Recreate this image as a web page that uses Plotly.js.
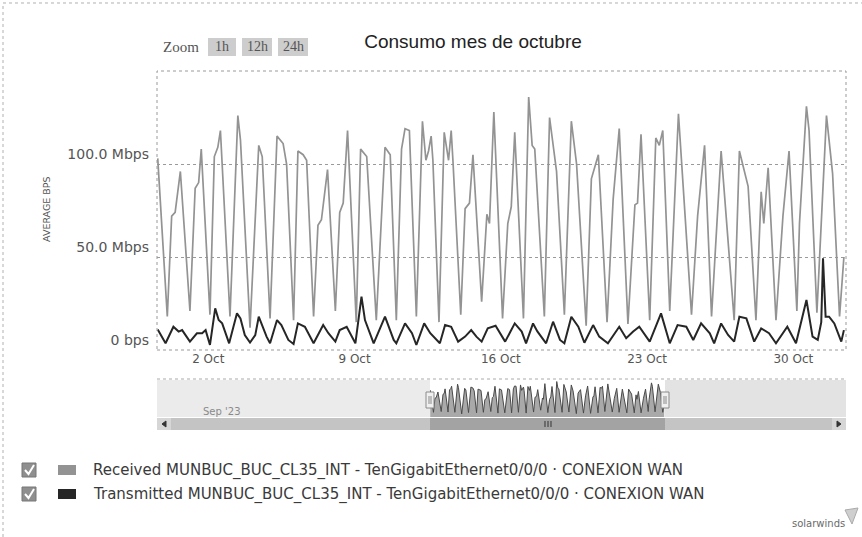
<!DOCTYPE html>
<html><head><meta charset="utf-8">
<script src="https://cdn.plot.ly/plotly-3.0.1.min.js"></script>
<style>html,body{margin:0;padding:0;background:#fff}#chart{width:862px;height:537px}</style>
</head><body><div id="chart"></div>
<script>
// ---------- data ----------
const recvTime = ['2023-09-29 14:00','2023-09-30 01:00','2023-09-30 06:00','2023-09-30 10:00','2023-09-30 16:00',
'2023-10-01 03:00','2023-10-01 09:00','2023-10-01 13:00','2023-10-01 16:00',
'2023-10-02 02:00','2023-10-02 07:00','2023-10-02 11:00','2023-10-02 14:00',
'2023-10-03 01:00','2023-10-03 10:00','2023-10-03 13:00',
'2023-10-04 00:00','2023-10-04 10:00','2023-10-04 14:00','2023-10-04 23:00',
'2023-10-05 07:00','2023-10-05 14:00','2023-10-05 18:00',
'2023-10-06 02:00','2023-10-06 07:00','2023-10-06 13:00','2023-10-06 17:00',
'2023-10-07 01:00','2023-10-07 06:00','2023-10-07 10:00','2023-10-07 17:00',
'2023-10-08 02:00','2023-10-08 07:00','2023-10-08 11:00','2023-10-08 16:00',
'2023-10-09 02:00','2023-10-09 07:00','2023-10-09 14:00',
'2023-10-10 01:00','2023-10-10 11:00','2023-10-10 17:00',
'2023-10-11 00:00','2023-10-11 06:00','2023-10-11 10:00','2023-10-11 15:00','2023-10-11 23:00',
'2023-10-12 06:00','2023-10-12 10:00','2023-10-12 13:00','2023-10-12 16:00','2023-10-12 18:00',
'2023-10-13 01:00','2023-10-13 07:00','2023-10-13 12:00','2023-10-13 15:00','2023-10-13 17:00',
'2023-10-14 02:00','2023-10-14 07:00','2023-10-14 12:00','2023-10-14 16:00',
'2023-10-15 02:00','2023-10-15 08:00','2023-10-15 11:00','2023-10-15 16:00',
'2023-10-16 02:00','2023-10-16 08:00','2023-10-16 12:00','2023-10-16 16:00',
'2023-10-17 02:00','2023-10-17 08:00','2023-10-17 12:00','2023-10-17 15:00',
'2023-10-18 02:00','2023-10-18 08:00','2023-10-18 16:00',
'2023-10-19 01:00','2023-10-19 09:00','2023-10-19 15:00',
'2023-10-20 02:00','2023-10-20 08:00','2023-10-20 16:00',
'2023-10-21 02:00','2023-10-21 09:00','2023-10-21 16:00',
'2023-10-22 02:00','2023-10-22 10:00','2023-10-22 13:00','2023-10-22 17:00',
'2023-10-23 03:00','2023-10-23 10:00','2023-10-23 14:00','2023-10-23 18:00',
'2023-10-24 02:00','2023-10-24 12:00',
'2023-10-25 03:00','2023-10-25 10:00','2023-10-25 18:00',
'2023-10-26 02:00','2023-10-26 13:00',
'2023-10-27 04:00','2023-10-27 10:00','2023-10-27 20:00',
'2023-10-28 05:00','2023-10-28 11:00','2023-10-28 14:00','2023-10-28 19:00',
'2023-10-29 04:00','2023-10-29 12:00','2023-10-29 19:00',
'2023-10-30 04:00','2023-10-30 07:00','2023-10-30 15:00','2023-10-30 18:00',
'2023-10-31 03:00','2023-10-31 14:00','2023-10-31 21:00',
'2023-11-01 05:00','2023-11-01 10:00'];
const recvMbps = [103,18,72,74,96,
21,87,90,108,
19,104,109,118,
18,126,113,
12,110,104,17,
115,111,100,
16,107,105,102,
18,67,70,97,
21,74,79,118,
15,108,104,
16,109,105,
16,108,119,118,18,
123,102,107,115,102,
15,117,102,118,102,
19,76,79,105,
26,73,68,128,
17,68,77,117,
17,136,110,108,
18,125,96,
19,123,100,
13,92,105,
15,81,119,
14,78,79,116,
16,114,110,118,
21,127,
19,72,110,
18,107,
16,107,88,
16,85,68,98,
16,72,107,
21,68,131,118,
20,126,95,
18,50];

const sentTime = ['2023-09-29 14:00','2023-09-29 23:00','2023-09-30 08:00','2023-09-30 14:00','2023-09-30 18:00',
'2023-10-01 03:00','2023-10-01 11:00','2023-10-01 17:00','2023-10-01 21:00',
'2023-10-02 02:00','2023-10-02 08:00','2023-10-02 12:00','2023-10-02 16:00',
'2023-10-03 00:00','2023-10-03 09:00','2023-10-03 13:00','2023-10-03 18:00',
'2023-10-04 00:00','2023-10-04 06:00','2023-10-04 10:00','2023-10-04 19:00','2023-10-04 23:00',
'2023-10-05 07:00','2023-10-05 12:00','2023-10-05 20:00',
'2023-10-06 02:00','2023-10-06 07:00','2023-10-06 15:00',
'2023-10-07 01:00','2023-10-07 12:00','2023-10-07 18:00',
'2023-10-08 02:00','2023-10-08 07:00','2023-10-08 15:00',
'2023-10-09 01:00','2023-10-09 08:00','2023-10-09 12:00','2023-10-09 22:00',
'2023-10-10 11:00','2023-10-10 21:00',
'2023-10-11 00:00','2023-10-11 10:00','2023-10-11 18:00','2023-10-11 23:00',
'2023-10-12 08:00','2023-10-12 15:00',
'2023-10-13 02:00','2023-10-13 08:00','2023-10-13 15:00','2023-10-13 23:00',
'2023-10-14 07:00','2023-10-14 14:00','2023-10-14 20:00',
'2023-10-15 02:00','2023-10-15 09:00','2023-10-15 18:00',
'2023-10-16 05:00','2023-10-16 16:00',
'2023-10-17 00:00','2023-10-17 05:00','2023-10-17 13:00','2023-10-17 18:00',
'2023-10-18 04:00','2023-10-18 12:00','2023-10-18 20:00',
'2023-10-19 01:00','2023-10-19 09:00','2023-10-19 17:00',
'2023-10-20 00:00','2023-10-20 10:00','2023-10-20 17:00',
'2023-10-21 03:00','2023-10-21 16:00',
'2023-10-22 00:00','2023-10-22 08:00','2023-10-22 15:00',
'2023-10-23 03:00','2023-10-23 16:00',
'2023-10-24 02:00','2023-10-24 11:00','2023-10-24 21:00',
'2023-10-25 05:00','2023-10-25 14:00',
'2023-10-26 00:00','2023-10-26 05:00','2023-10-26 13:00','2023-10-26 21:00',
'2023-10-27 04:00','2023-10-27 10:00','2023-10-27 18:00',
'2023-10-28 03:00','2023-10-28 11:00','2023-10-28 20:00',
'2023-10-29 04:00','2023-10-29 17:00',
'2023-10-30 03:00','2023-10-30 15:00','2023-10-30 22:00',
'2023-10-31 04:00','2023-10-31 08:00','2023-10-31 10:00','2023-10-31 13:00','2023-10-31 17:00','2023-10-31 23:00',
'2023-11-01 07:00','2023-11-01 10:00'];
const sentMbps = [11,3.6,12.5,9.9,10.7,
4.5,9,9,10.7,
2.7,22.4,16.1,14.3,
3.6,19.7,17,8,
4,8,17.9,7.2,3.6,
16.1,13.4,5.4,
3.2,14.3,12.5,
3.6,13.4,9,
4.5,10.7,12.5,
3.6,28.7,16.1,3.6,
17.9,5.4,
3.6,14.3,9,2.7,
14.3,9,
3.6,13.4,12.5,4.5,
7.2,10.7,7.2,
4.5,11.6,13,
4.5,14.3,
9.9,3.6,14.3,10,
3.6,15.2,5.4,
3.6,17.9,12.5,
3.9,13.4,7.2,
3.6,12.5,
6.3,9.9,12.5,
4.5,19.7,
3.6,13.4,12.5,
5.4,14.3,
9,3.6,14.3,8.1,
4.5,17.9,17,
4.5,11.6,9,
3.6,12.5,
3.6,26.9,7.2,
5.4,15,49.3,17.9,17.9,14.3,
4.5,10.7];

const xTickVals = ['2023-10-02','2023-10-09','2023-10-16','2023-10-23','2023-10-30'];
const yTickVals = [0, 50, 100];
const yTickText = ['0 bps', '50.0 Mbps', '100.0 Mbps'];
const seriesNames = ['Received MUNBUC_BUC_CL35_INT - TenGigabitEthernet0/0/0 · CONEXION WAN',
                     'Transmitted MUNBUC_BUC_CL35_INT - TenGigabitEthernet0/0/0 · CONEXION WAN'];
const zoomButtons = ['1h', '12h', '24h'];

// ---------- layout helpers (pixel -> paper) ----------
const L = 157, R = 846, T = 71, B = 430;
const X = p => (p - L) / (R - L);
const Y = p => (B - p) / (B - T);
const recvColor = '#939393', sentColor = '#262626';
const font = 'DejaVu Sans, Open Sans, sans-serif';

const traces = [
  {x: recvTime, y: recvMbps, type: 'scatter', mode: 'lines', name: seriesNames[0],
   line: {color: recvColor, width: 1.7}, xaxis: 'x', yaxis: 'y', hoverinfo: 'skip'},
  {x: sentTime, y: sentMbps, type: 'scatter', mode: 'lines', name: seriesNames[1],
   line: {color: sentColor, width: 2}, xaxis: 'x', yaxis: 'y', hoverinfo: 'skip'},
  {x: recvTime, y: recvMbps, type: 'scatter', mode: 'lines', name: 'navigator',
   line: {color: '#4a4a4a', width: 1}, fill: 'tozeroy', fillcolor: '#a9a9a9',
   xaxis: 'x2', yaxis: 'y2', hoverinfo: 'skip'}
];

const shapes = [];
const ann = [];
function rect(x0, y0, x1, y1, fill, line, extra) {
  shapes.push(Object.assign({type: 'rect', xref: 'paper', yref: 'paper',
    x0: X(x0), x1: X(x1), y0: Y(y1), y1: Y(y0), fillcolor: fill,
    line: line || {width: 0}, layer: 'above'}, extra || {}));
}
function path(d, color, width, fill, dash) {
  const s = d.map((p, i) => (i ? 'L' : 'M') + X(p[0]).toFixed(5) + ',' + Y(p[1]).toFixed(5)).join(' ') + (fill ? ' Z' : '');
  shapes.push({type: 'path', xref: 'paper', yref: 'paper', path: s,
    line: {color: color, width: width, dash: dash || 'solid'}, fillcolor: fill || 'rgba(0,0,0,0)', layer: 'above'});
}
function text(t, x, y, size, color, anchor, extra, fam) {
  ann.push(Object.assign({text: t, x: X(x), y: Y(y), xref: 'paper', yref: 'paper',
    showarrow: false, xanchor: anchor || 'center', yanchor: 'middle',
    font: {family: fam || font, size: size, color: color}}, extra || {}));
}

// outer dotted border (top + left)
path([[3, 537], [3, 3], [862, 3]], '#b0b0b0', 1, null, 'dot');
// plot-area dotted border
rect(L, T, R, 350, 'rgba(0,0,0,0)', {color: '#9a9a9a', width: 1, dash: 'dot'});

// Zoom range selector
const serif = 'Liberation Serif, serif';
text('Zoom', 181, 47, 15, '#555', 'center', null, serif);
const btnX = [[208, 236], [242, 272], [278, 308]];
zoomButtons.forEach((b, i) => {
  rect(btnX[i][0], 38, btnX[i][1], 56, '#cdcdcd', {width: 0});
  text(b, (btnX[i][0] + btnX[i][1]) / 2, 47, 14, '#555', 'center', null, serif);
});

// y axis title
text('AVERAGE BPS', 46, 209, 9.5, '#555', 'center', {textangle: -90});

// navigator decorations
path([[L, 379], [R, 379]], '#aaa', 1, null, 'dot');
rect(L, 380, 430, 417, 'rgba(232,232,232,0.85)');
rect(665, 380, R, 417, 'rgba(222,222,222,0.85)');
text("Sep '23", 222, 411, 10, '#8a8a8a');
[430, 665].forEach(hx => {
  rect(hx - 4, 392, hx + 4, 408, '#f0f0f0', {color: '#8a8a8a', width: 1});
  path([[hx - 1, 396], [hx - 1, 404]], '#8a8a8a', 1);
  path([[hx + 1, 396], [hx + 1, 404]], '#8a8a8a', 1);
});
// scrollbar
rect(L, 418, R, 430, '#c4c4c4');
rect(430, 418, 665, 430, '#a3a3a3');
rect(L, 418, 171, 430, '#d6d6d6');
rect(832, 418, R, 430, '#d6d6d6');
path([[166, 421], [166, 427], [162, 424]], '#333', 1, '#333');
path([[837, 421], [837, 427], [841, 424]], '#333', 1, '#333');
[545, 548, 551].forEach(gx => path([[gx, 421], [gx, 427]], '#333', 1));

// custom legend
const rowY = [470, 494];
const swatch = [recvColor, sentColor];
rowY.forEach((ry, i) => {
  rect(22, ry - 7, 36, ry + 7, '#8f8f8f', {color: '#777', width: 1});
  path([[25, ry], [28.5, ry + 4], [34, ry - 5]], '#fff', 2);
  rect(58, ry - 5, 76, ry + 5, swatch[i]);
  text(seriesNames[i], 91, ry, 15, '#3a3a3a', 'left');
});

// solarwinds logo
text('solarwinds', 818, 523, 10, '#6a6a6a');
path([[845, 510], [858, 508], [852, 524]], '#aaa', 1, '#cfcfcf');

const layout = {
  width: 862, height: 537,
  margin: {l: L, r: 862 - R, t: T, b: 537 - B, pad: 0},
  paper_bgcolor: '#fff', plot_bgcolor: 'rgba(0,0,0,0)',
  showlegend: false,
  title: {text: 'Consumo mes de octubre', x: 473 / 862, xanchor: 'center', y: 1 - 41 / 537, yanchor: 'middle',
          font: {family: 'Liberation Sans, Arial, sans-serif', size: 19, color: '#222'}},
  xaxis: {domain: [0, 1], anchor: 'y', type: 'date',
          range: ['2023-09-29 13:10', '2023-11-01 12:25'],
          tickvals: xTickVals, tickformat: '%-d %b', ticks: '', showgrid: false,
          showline: false, zeroline: false, tickfont: {family: font, size: 12, color: '#555'}},
  yaxis: {domain: [Y(350), 1], anchor: 'x', range: [0, 150],
          tickvals: yTickVals, ticktext: yTickText, ticks: '', ticklabelposition: 'outside top',
          ticklabelstandoff: 7,
          showgrid: true, gridcolor: '#9a9a9a', griddash: 'dot', gridwidth: 1,
          zeroline: false, showline: false, tickfont: {family: font, size: 14, color: '#555'}},
  xaxis2: {domain: [0, 1], anchor: 'y2', type: 'date',
           range: ['2023-08-22 06:00', '2023-11-26 22:00'],
           showticklabels: false, showgrid: false, zeroline: false, ticks: '', showline: false},
  yaxis2: {domain: [Y(417), Y(380)], anchor: 'x2', range: [0, 142],
           showticklabels: false, showgrid: false, zeroline: false, ticks: '', showline: false},
  shapes: shapes, annotations: ann
};

Plotly.newPlot('chart', traces, layout, {displayModeBar: false, staticPlot: true});
</script>
</body></html>
